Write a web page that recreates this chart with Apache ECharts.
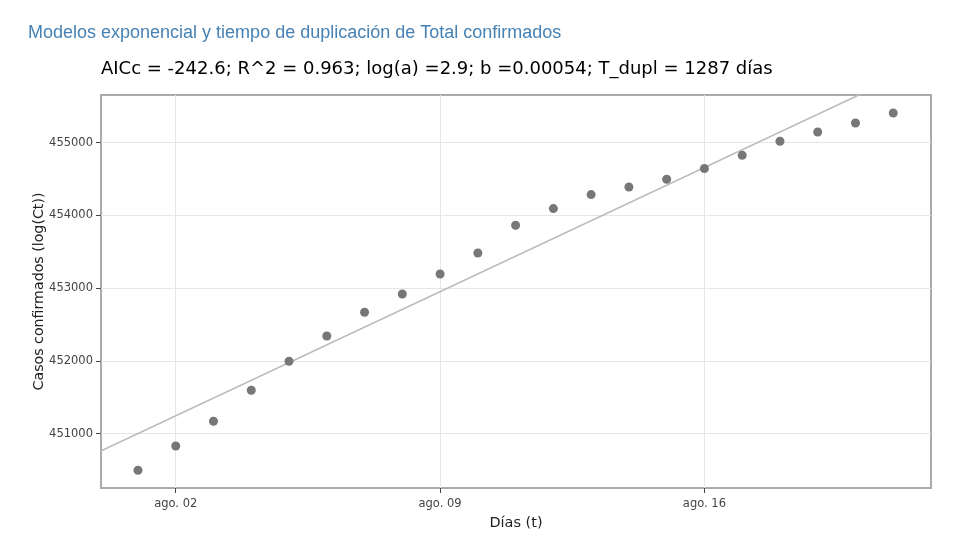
<!DOCTYPE html>
<html>
<head>
<meta charset="utf-8">
<script src="https://cdn.jsdelivr.net/npm/echarts@6/dist/echarts.min.js"></script>
<style>
html,body{margin:0;padding:0;background:#fff;}
#chart{width:977px;height:555px;}
</style>
</head>
<body>
<div id="chart"></div>
<script>
// ---- data ----
var titleText = 'Modelos exponencial y tiempo de duplicación de Total confirmados';
var subtitleText = 'AICc = -242.6; R^2 = 0.963; log(a) =2.9; b =0.00054; T_dupl = 1287 días';
var xAxisName = 'Días (t)';
var yAxisName = 'Casos confirmados (log(Ct))';

var dates = ['2020-08-01','2020-08-02','2020-08-03','2020-08-04','2020-08-05','2020-08-06','2020-08-07',
             '2020-08-08','2020-08-09','2020-08-10','2020-08-11','2020-08-12','2020-08-13','2020-08-14',
             '2020-08-15','2020-08-16','2020-08-17','2020-08-18','2020-08-19','2020-08-20','2020-08-21'];
var confirmed = [450496,450830,451169,451595,451994,452342,452667,452919,453194,453482,453863,
                 454093,454285,454390,454496,454643,454825,455018,455146,455269,455407];

var fitDates = ['2020-07-31','2020-08-22'];
var fitValues = [450757,456120];

var xTickDates = ['2020-08-02','2020-08-09','2020-08-16'];
var xTickLabels = ['ago. 02','ago. 09','ago. 16'];
var yTicks = [451000,452000,453000,454000,455000];
var xRange = ['2020-07-31T00:30:00','2020-08-22T00:00:00'];
var yRange = [450252,455654];

// ---- chart ----
function ts(s){ return echarts.time.parse(s).getTime(); }
var xTickTs = xTickDates.map(ts);
var pts = dates.map(function(d,i){ return [ts(d), confirmed[i]]; });
var fit = fitDates.map(function(d,i){ return [ts(d), fitValues[i]]; });

var chart = echarts.init(document.getElementById('chart'), null, {renderer:'canvas'});
var tickFont = 'DejaVu Sans, Verdana, sans-serif';
chart.setOption({
  animation:false,
  backgroundColor:'#fff',
  title:[
    {text:titleText, left:23, top:19,
     textStyle:{fontFamily:'Liberation Sans, Arial, sans-serif', fontSize:18, fontWeight:'normal', color:'#4682b4'}},
    {text:subtitleText, left:96, top:55,
     textStyle:{fontFamily:tickFont, fontSize:18, fontWeight:'normal', color:'#000'}}
  ],
  grid:{left:101, right:46, top:95, bottom:67, show:true, borderColor:'#aaa', borderWidth:2, backgroundColor:'#fff'},
  xAxis:{
    type:'value',
    min:ts(xRange[0]), max:ts(xRange[1]),
    name:xAxisName, nameLocation:'middle', nameGap:28, nameMoveOverlap:false,
    nameTextStyle:{fontFamily:tickFont, fontSize:14.5, color:'#222'},
    axisLine:{show:false},
    axisTick:{show:true, customValues:xTickTs, length:5, inside:false, lineStyle:{color:'#444', width:1}},
    axisLabel:{customValues:xTickTs, fontFamily:tickFont, fontSize:11.5, color:'#444', margin:10,
      formatter:function(v){ var i = xTickTs.indexOf(v); return i>=0 ? xTickLabels[i] : ''; }},
    splitLine:{show:true, lineStyle:{color:'#e6e6e6', width:1}}
  },
  yAxis:{
    type:'value',
    min:yRange[0], max:yRange[1],
    name:yAxisName, nameLocation:'middle', nameGap:55, nameRotate:90, nameMoveOverlap:false,
    nameTextStyle:{fontFamily:tickFont, fontSize:14.2, color:'#222'},
    axisLine:{show:false},
    axisTick:{show:true, customValues:yTicks, length:5, lineStyle:{color:'#444', width:1}},
    axisLabel:{customValues:yTicks, fontFamily:tickFont, fontSize:11.5, color:'#444', margin:8,
      formatter:function(v){ return String(v); }},
    splitLine:{show:true, lineStyle:{color:'#e6e6e6', width:1}}
  },
  series:[
    {type:'line', data:fit, showSymbol:false, symbol:'none', clip:true,
     lineStyle:{color:'#bbbbbb', width:1.6}, z:2},
    {type:'scatter', data:pts, symbolSize:9, itemStyle:{color:'#777777', opacity:1}, z:3}
  ]
});
</script>
</body>
</html>
